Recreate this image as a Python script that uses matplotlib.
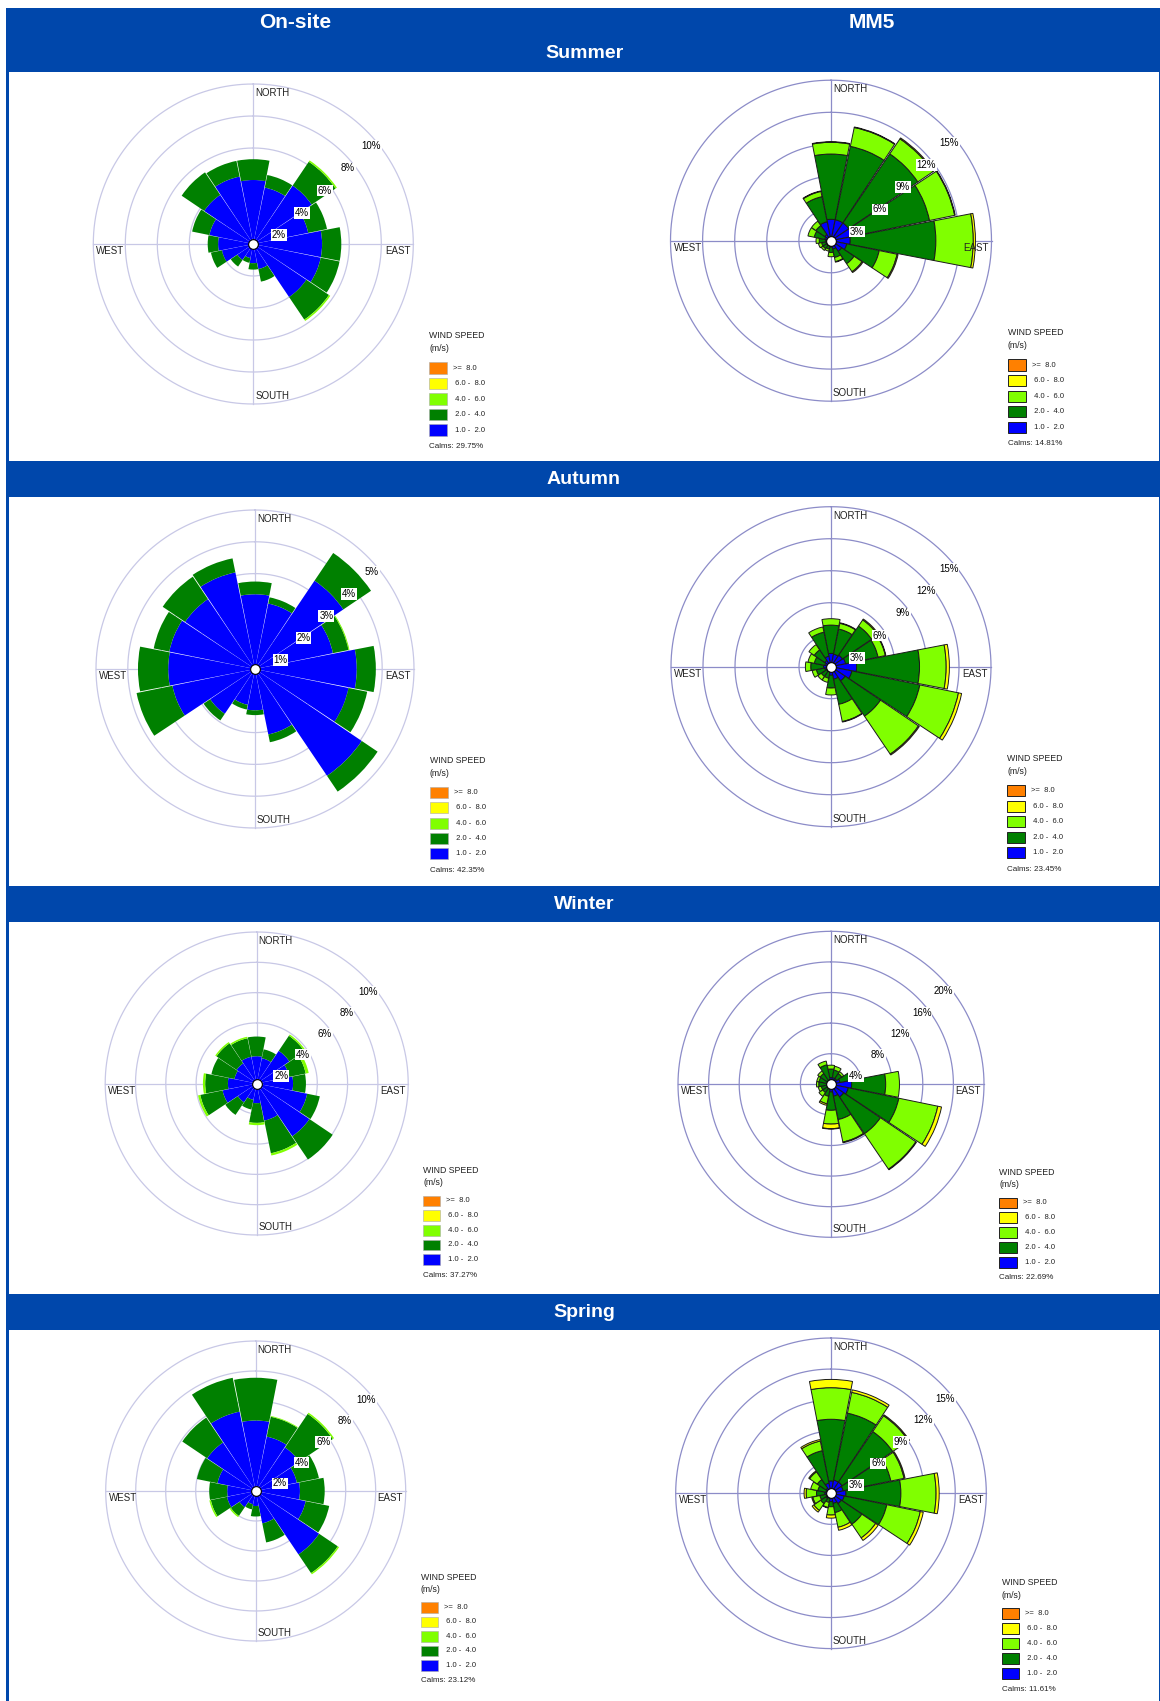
import matplotlib.pyplot as plt
import numpy as np
from matplotlib.patches import Rectangle

plt.rcParams["font.family"] = ["Liberation Sans", "DejaVu Sans"]

W, H = 1160, 1701
HEADER_BLUE = "#0047ab"

directions = ["N", "NNE", "NE", "ENE", "E", "ESE", "SE", "SSE",
              "S", "SSW", "SW", "WSW", "W", "WNW", "NW", "NNW"]

# speed classes from slowest to fastest (stacking order)
speed_colors = ["#0000ff", "#008000", "#80ff00", "#ffff00", "#ff8000"]
speed_labels = [" 1.0 -  2.0", " 2.0 -  4.0", " 4.0 -  6.0", " 6.0 -  8.0", ">=  8.0"]

# frequency (%) by direction; rows: 1-2, 2-4, 4-6, 6-8, >=8 m/s
summer_onsite = [
    [4.0, 3.6, 4.4, 3.5, 4.3, 4.3, 4.0, 1.6, 1.2, 0.9, 1.2, 2.0, 2.2, 2.8, 3.7, 4.3],
    [1.3, 0.8, 1.8, 1.2, 1.2, 1.2, 1.7, 0.8, 0.4, 0.3, 0.5, 0.7, 0.65, 1.1, 1.7, 1.0],
    [0, 0, 0.1, 0, 0, 0, 0.1, 0, 0, 0, 0, 0, 0, 0, 0, 0],
    [0] * 16,
    [0] * 16,
]
summer_mm5 = [
    [2.0, 2.0, 2.0, 2.0, 1.8, 1.5, 1.2, 0.8, 0.6, 0.5, 0.5, 0.5, 0.5, 0.6, 0.7, 1.8],
    [6.1, 7.0, 7.8, 7.4, 8.0, 3.1, 1.4, 0.8, 0.5, 0.3, 0.4, 0.4, 0.6, 1.0, 1.0, 2.4],
    [1.1, 1.8, 1.7, 2.4, 3.5, 1.7, 0.9, 0.4, 0.4, 0.2, 0.2, 0.3, 0.3, 0.6, 0.5, 0.5],
    [0.05, 0.05, 0.1, 0.05, 0.2, 0.1, 0.1, 0.05, 0, 0, 0, 0, 0, 0, 0, 0.05],
    [0] * 16,
]
autumn_onsite = [
    [2.35, 2.1, 3.35, 2.5, 3.2, 3.0, 4.05, 2.1, 1.3, 1.15, 1.7, 2.65, 2.73, 2.75, 2.65, 3.1],
    [0.4, 0.2, 1.05, 0.5, 0.6, 0.6, 0.6, 0.25, 0.15, 0.15, 0.25, 1.15, 0.95, 0.5, 0.85, 0.45],
    [0, 0, 0, 0.03, 0, 0, 0, 0, 0, 0, 0, 0, 0, 0, 0, 0],
    [0] * 16,
    [0] * 16,
]
autumn_mm5 = [
    [1.25, 1.2, 1.3, 1.4, 2.4, 2.0, 1.6, 1.2, 0.8, 0.5, 0.5, 0.6, 0.7, 0.6, 0.7, 1.0],
    [2.65, 2.4, 3.3, 3.1, 5.9, 6.5, 4.0, 2.4, 1.2, 0.6, 0.6, 0.8, 1.2, 1.0, 1.2, 2.3],
    [0.6, 0.55, 0.7, 0.7, 2.5, 3.7, 4.3, 1.65, 0.65, 0.4, 0.4, 0.4, 0.5, 0.6, 0.6, 0.5],
    [0, 0.05, 0.1, 0.05, 0.3, 0.3, 0.1, 0.05, 0, 0, 0, 0, 0, 0, 0, 0],
    [0] * 16,
]
winter_onsite = [
    [1.8, 1.7, 2.6, 2.2, 2.4, 3.4, 4.2, 2.5, 1.3, 1.1, 1.5, 2.3, 1.9, 1.5, 1.6, 1.8],
    [1.3, 0.6, 1.2, 1.1, 0.85, 0.85, 1.85, 2.2, 1.3, 0.65, 1.0, 1.5, 1.5, 1.55, 1.6, 1.25],
    [0, 0, 0.1, 0.2, 0, 0, 0, 0.15, 0.15, 0, 0, 0.15, 0.15, 0, 0.1, 0.1],
    [0] * 16,
    [0] * 16,
]
winter_mm5 = [
    [0.9, 0.9, 0.9, 1.2, 2.7, 2.3, 2.0, 1.6, 1.0, 0.6, 0.5, 0.5, 0.5, 0.5, 0.5, 0.6],
    [1.1, 1.0, 0.8, 1.4, 4.45, 6.75, 5.8, 3.1, 2.4, 1.0, 0.8, 0.8, 1.1, 1.1, 1.2, 2.0],
    [0.5, 0.5, 0.3, 0.2, 1.8, 5.2, 5.6, 3.0, 1.8, 1.0, 0.6, 0.4, 0.3, 0.3, 0.4, 0.5],
    [0, 0, 0, 0, 0, 0.5, 0.1, 0.1, 0.6, 0.2, 0, 0, 0, 0, 0, 0],
    [0, 0, 0, 0, 0, 0, 0, 0, 0.05, 0, 0, 0, 0, 0, 0, 0],
]
spring_onsite = [
    [4.7, 3.7, 3.5, 2.8, 2.95, 3.4, 5.1, 2.2, 1.0, 0.9, 1.3, 1.95, 1.9, 2.6, 3.9, 5.4],
    [2.85, 1.35, 2.7, 1.5, 1.65, 1.6, 1.5, 1.3, 0.7, 0.35, 0.7, 1.1, 1.2, 1.4, 2.0, 2.3],
    [0, 0.05, 0.1, 0, 0, 0, 0.1, 0, 0, 0, 0.1, 0.1, 0, 0, 0, 0],
    [0] * 16,
    [0] * 16,
]
spring_mm5 = [
    [1.2, 1.3, 1.3, 1.2, 1.45, 1.3, 1.2, 1.0, 0.8, 0.5, 0.6, 0.5, 0.6, 0.5, 0.6, 1.0],
    [5.95, 6.6, 5.9, 4.7, 5.3, 4.2, 2.4, 0.9, 0.5, 0.4, 0.6, 0.6, 0.8, 0.8, 1.0, 3.2],
    [3.05, 2.05, 1.85, 1.3, 3.4, 3.3, 1.6, 1.45, 0.8, 0.5, 0.8, 0.7, 1.0, 0.7, 0.9, 0.95],
    [0.8, 0.25, 0.1, 0.1, 0.3, 0.3, 0.3, 0.3, 0.3, 0.05, 0.2, 0.1, 0.2, 0, 0.1, 0.15],
    [0] * 16,
]

calms = [29.75, 14.81, 42.35, 23.45, 37.27, 22.69, 23.12, 11.61]
ring_steps = [2, 3, 1, 3, 2, 4, 2, 3]
seasons = ["Summer", "Autumn", "Winter", "Spring"]
columns = ["On-site", "MM5"]

panels = [summer_onsite, summer_mm5, autumn_onsite, autumn_mm5,
          winter_onsite, winter_mm5, spring_onsite, spring_mm5]

# rose centre (px) and outer ring radius (px)
rose_geometry = [
    (253.3, 244.0, 160.0), (831.0, 240.7, 160.5),
    (255.0, 669.0, 159.0), (831.0, 666.7, 160.0),
    (256.7, 1083.5, 151.5), (831.0, 1084.3, 153.0),
    (255.7, 1491.0, 150.0), (831.0, 1493.3, 155.3),
]

fig = plt.figure(figsize=(W / 100, H / 100), dpi=100)
fig.patch.set_facecolor("white")

bg = fig.add_axes([0, 0, 1, 1])
bg.set_xlim(0, W)
bg.set_ylim(H, 0)
bg.axis("off")

# table frame and header bands
left, right = 6, 1160
bg.add_patch(Rectangle((left, 8), 3, H - 8, color=HEADER_BLUE, lw=0))
bg.add_patch(Rectangle((right - 1.5, 8), 1.5, H - 8, color=HEADER_BLUE, lw=0))
bg.add_patch(Rectangle((left, 8), right - left, 64, color=HEADER_BLUE, lw=0))
bg.text(295, 22, columns[0], color="white", fontsize=15, fontweight="bold", ha="center", va="center")
bg.text(872, 22, columns[1], color="white", fontsize=15, fontweight="bold", ha="center", va="center")
bg.text(584, 53, seasons[0], color="white", fontsize=14, fontweight="bold", ha="center", va="center")
for name, y0 in zip(seasons[1:], [461, 886, 1294]):
    bg.add_patch(Rectangle((left, y0), right - left, 36, color=HEADER_BLUE, lw=0))
    bg.text(584, y0 + 18, name, color="white", fontsize=14, fontweight="bold", ha="center", va="center")

theta = np.arange(16) * 2 * np.pi / 16
circle = np.linspace(0, 2 * np.pi, 361)

for idx, (freqs, (cx, cy, R)) in enumerate(zip(panels, rose_geometry)):
    is_mm5 = idx % 2 == 1
    step = ring_steps[idx]
    rmax = step * 5
    ring_color = "#8c8cc8" if is_mm5 else "#c8c8e6"

    ax = fig.add_axes([(cx - R) / W, 1 - (cy + R) / H, 2 * R / W, 2 * R / H], projection="polar")
    ax.set_theta_zero_location("N")
    ax.set_theta_direction(-1)
    ax.set_ylim(0, rmax)
    ax.axis("off")

    for k in range(1, 6):
        ax.plot(circle, np.full_like(circle, k * step), color=ring_color, lw=0.9, zorder=1, clip_on=False)
    for ang in [0, np.pi / 2, np.pi, 3 * np.pi / 2]:
        ax.plot([ang, ang], [0, rmax], color=ring_color, lw=0.9, zorder=1, clip_on=False)

    if is_mm5:
        width, edge, lw = 2 * np.pi / 16 - 0.012, "#1a1a1a", 0.7
    else:
        width, edge, lw = 2 * np.pi / 16 - 0.008, "none", 0

    bottom = np.zeros(16)
    for vals, color in zip(freqs, speed_colors):
        vals = np.asarray(vals, dtype=float)
        mask = vals > 0
        if mask.any():
            ax.bar(theta[mask], vals[mask], width=width, bottom=bottom[mask], color=color,
                   edgecolor=edge, linewidth=lw, zorder=2)
        bottom = bottom + vals

    ax.plot([0], [0], marker="o", ms=7, mfc="white", mec="black", mew=0.8, zorder=5, clip_on=False)

    # ring labels along the NE diagonal
    for k in range(1, 6):
        ax.annotate(f"{k * step}%", xy=(np.deg2rad(46), k * step), xytext=(2.7, -13.3),
                    textcoords="offset pixels", ha="center", va="center", fontsize=7, zorder=6,
                    bbox=dict(boxstyle="square,pad=0.08", fc="white", ec="none"))

    dir_kw = dict(textcoords="offset pixels", fontsize=7, color="#222222", zorder=6)
    ax.annotate("NORTH", xy=(0, rmax), xytext=(2, -4), ha="left", va="top", **dir_kw)
    ax.annotate("SOUTH", xy=(np.pi, rmax), xytext=(2, 3), ha="left", va="bottom", **dir_kw)
    ax.annotate("WEST", xy=(3 * np.pi / 2, rmax), xytext=(3, -2), ha="left", va="top", **dir_kw)
    ax.annotate("EAST", xy=(np.pi / 2, rmax), xytext=(-3, -2), ha="right", va="top", **dir_kw)

    # legend block to the lower right of the rose
    lx = cx + 1.10 * R
    ly = cy + 0.575 * R
    bg.text(lx, ly, "WIND SPEED", fontsize=6.3, ha="left", va="center", color="#222222")
    bg.text(lx, ly + 0.08 * R, "(m/s)", fontsize=6.3, ha="left", va="center", color="#222222")
    sw, sh = 0.113 * R, 0.07 * R
    for j, (lab, color) in enumerate(zip(speed_labels[::-1], speed_colors[::-1])):
        yc = ly + 0.2 * R + j * 0.097 * R
        bg.add_patch(Rectangle((lx, yc - sh / 2), sw, sh, facecolor=color,
                               edgecolor="#222222" if is_mm5 else "#aaaaaa", lw=0.7 if is_mm5 else 0.4))
        bg.text(lx + sw + 6, yc, lab, fontsize=5.5, ha="left", va="center", color="#222222")
    bg.text(lx, ly + 0.69 * R, f"Calms: {calms[idx]:.2f}%", fontsize=5.8, ha="left", va="center", color="#222222")

fig.savefig("out.png", dpi=100)
